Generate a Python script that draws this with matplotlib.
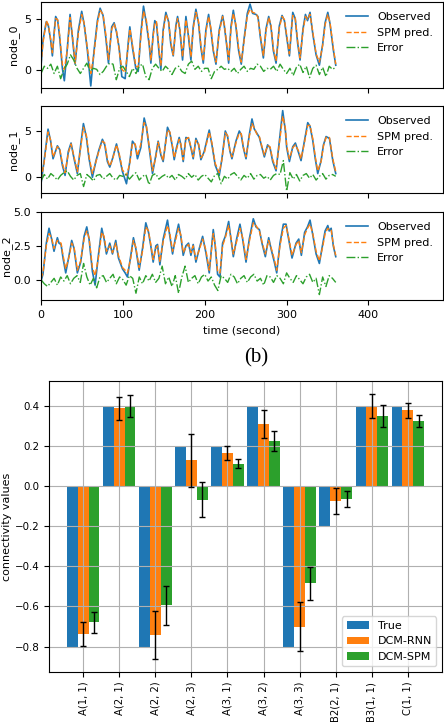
import numpy as np
import matplotlib
matplotlib.use("Agg")
import matplotlib.pyplot as plt

# ---- time series: (time, observed, SPM prediction) ----
node0 = [
    (0, 0.4, 0.6), (2.4, 2.9, 2.6), (6.5, 4.7, 4.8), (9.0, 4.3, 4.4), (11.8, 2.9, 3.0),
    (13.9, 1.4, 1.7), (15.9, 3.5, 3.4), (17.9, 5.2, 5.0), (20.4, 4.8, 4.9), (22.8, 3.2, 3.4),
    (26.1, 0.2, 0.6), (28.5, -1.0, 0.1), (32.2, 2.2, 2.0), (35.5, 5.4, 5.1), (38.3, 3.2, 3.5),
    (41.6, 0.6, 0.7), (45.7, 3.9, 3.6), (49.7, 5.7, 5.4), (52.6, 4.5, 4.6), (56.7, 1.9, 2.1),
    (60.8, -1.5, -0.3), (64.8, 1.9, 1.6), (68.9, 4.8, 4.6), (72.2, 6.0, 5.8), (75.8, 5.3, 5.4),
    (79.1, 3.2, 3.5), (82.4, 0.7, 1.0), (86.4, 4.2, 4.0), (89.3, 4.6, 4.5), (92.2, 3.7, 3.8),
    (95.4, 2.2, 2.0), (98.7, -0.6, 0.1), (102.8, -0.8, -0.2), (106.8, 2.9, 2.6), (108.5, 4.2, 4.0),
    (111.7, 2.2, 2.5), (115.8, 0.2, 0.4), (118.7, -0.1, 0.3), (121.9, 3.5, 3.2), (125.2, 6.2, 5.7),
    (128.8, 4.5, 4.8), (132.1, 2.5, 2.7), (134.2, 0.7, 1.0), (137.0, 3.5, 3.3), (139.0, 4.8, 4.6),
    (141.1, 4.5, 4.7), (144.3, 1.6, 1.9), (146.4, 0.1, 0.5), (149.2, 3.9, 3.6), (152.5, 5.6, 5.4),
    (155.8, 4.7, 4.8), (158.6, 2.5, 2.7), (161.5, 1.4, 1.5), (164.7, 4.3, 4.1), (166.8, 5.2, 5.0),
    (169.6, 3.9, 4.0), (172.9, 1.0, 1.3), (177.0, 5.2, 4.9), (180.2, 3.2, 3.4), (183.1, 1.0, 1.3),
    (185.9, 4.2, 4.0), (189.2, 5.9, 5.6), (192.5, 4.5, 4.7), (195.3, 2.2, 2.4), (198.2, 0.7, 0.9),
    (201.4, 3.9, 3.7), (204.7, 5.4, 5.2), (207.5, 3.9, 4.1), (210.4, 1.9, 2.0), (213.7, 0.6, 0.8),
    (217.7, 3.9, 3.7), (221.8, 5.3, 5.2), (223.9, 4.3, 4.5), (226.7, 2.5, 2.6), (229.2, 0.7, 1.0),
    (232.0, 4.2, 4.0), (234.9, 5.8, 5.5), (238.1, 4.2, 4.4), (241.4, 1.9, 2.1), (244.6, 0.6, 0.8),
    (248.3, 3.2, 3.0), (252.0, 5.5, 5.3), (255.3, 6.4, 5.9), (258.5, 5.5, 5.6), (262.6, 5.4, 5.5),
    (265.0, 5.2, 5.1), (267.9, 3.2, 3.4), (271.6, 1.2, 1.4), (274.8, 4.0, 3.8), (278.1, 5.2, 5.1),
    (280.9, 4.2, 4.4), (283.8, 1.9, 2.1), (287.1, 0.7, 0.9), (291.1, 4.3, 4.1), (294.4, 5.3, 5.2),
    (297.3, 4.8, 4.9), (300.1, 3.2, 3.4), (303.4, 1.4, 1.6), (307.5, 5.6, 5.3), (310.5, 5.0, 5.1),
    (313.5, 2.6, 2.8), (316.4, 1.0, 1.2), (320.0, 4.0, 3.8), (323.0, 5.4, 5.2), (325.5, 4.8, 4.9),
    (328.6, 5.6, 5.4), (332.0, 3.5, 3.7), (336.0, 1.5, 1.6), (340.0, 0.5, 0.8), (344.0, 2.5, 2.4),
    (347.0, 4.6, 4.4), (350.3, 5.6, 5.4), (353.0, 4.5, 4.6), (357.0, 2.0, 2.2), (360.0, 0.5, 0.6),
]

node1 = [
    (0, -0.7, -0.2), (3.7, 1.7, 1.5), (8.6, 5.2, 4.9), (11.8, 3.9, 4.0), (14.7, 2.0, 2.2),
    (20.0, 3.4, 3.3), (22.8, 3.0, 3.1), (26.1, 1.3, 1.5), (29.4, 0.2, 0.5), (33.4, 2.8, 2.6),
    (36.7, 3.7, 3.6), (40.4, 2.0, 2.2), (44.4, 0.4, 0.6), (48.5, 3.5, 3.2), (51.8, 5.8, 5.4),
    (55.5, 4.3, 4.5), (58.7, 2.0, 2.2), (62.8, 0.0, 0.4), (66.9, 1.7, 1.6), (70.9, 3.0, 2.9),
    (75.0, 4.1, 3.9), (77.9, 3.5, 3.7), (81.1, 1.7, 1.9), (84.0, 1.1, 1.2), (87.3, 2.0, 1.9),
    (92.2, 3.6, 3.5), (95.4, 2.4, 2.6), (99.5, 0.6, 0.8), (104.4, -0.7, 0.2), (108.5, 1.7, 1.5),
    (111.7, 3.9, 3.7), (115.0, 3.5, 3.6), (117.8, 2.0, 2.3), (121.9, 3.2, 3.6), (126.0, 6.4, 5.9),
    (128.8, 5.4, 5.5), (132.1, 3.2, 3.4), (136.2, 0.4, 0.7), (140.3, 2.4, 2.2), (143.1, 3.9, 3.8),
    (146.4, 2.4, 2.6), (149.2, 1.7, 1.8), (154.5, 5.4, 5.1), (157.4, 4.8, 4.9), (160.7, 3.2, 3.3),
    (162.7, 1.9, 2.1), (165.5, 3.2, 3.0), (168.8, 4.3, 4.1), (170.8, 3.5, 3.6), (173.7, 1.7, 1.9),
    (177.0, 4.3, 4.1), (180.2, 4.2, 4.3), (183.1, 3.2, 3.3), (185.9, 2.0, 2.2), (189.2, 4.2, 4.0),
    (192.5, 3.5, 3.6), (195.3, 1.9, 2.1), (199.4, 2.8, 2.6), (205.5, 5.1, 4.9), (208.8, 3.5, 3.7),
    (212.8, 1.3, 1.5), (217.7, 0.2, 0.5), (221.0, 2.0, 1.9), (225.1, 5.0, 4.8), (227.9, 4.4, 4.5),
    (230.8, 2.8, 2.9), (233.2, 2.0, 2.2), (238.1, 3.9, 3.7), (242.2, 5.0, 4.8), (244.6, 4.6, 4.7),
    (247.1, 3.2, 3.3), (250.4, 2.0, 2.2), (254.4, 4.6, 4.4), (257.7, 6.3, 5.8), (260.6, 5.2, 5.3),
    (263.4, 4.8, 4.7), (266.7, 4.3, 4.4), (269.9, 3.2, 3.3), (272.8, 2.2, 2.4), (276.8, 3.5, 3.4),
    (279.7, 3.2, 3.3), (283.0, 1.7, 1.9), (287.1, 0.7, 0.9), (291.1, 3.9, 3.6), (295.2, 7.2, 6.6),
    (298.5, 5.0, 5.3), (300.1, 3.2, 3.4), (303.4, 1.7, 2.0), (307.5, 3.3, 3.2), (310.7, 3.7, 3.5),
    (314.8, 2.6, 2.8), (317.6, 1.8, 2.0), (321.5, 3.8, 3.6), (325.8, 5.9, 5.6), (328.6, 5.5, 5.6),
    (331.9, 4.0, 4.2), (335.0, 2.0, 2.2), (338.0, 0.4, 0.7), (342.1, 1.8, 1.7), (345.0, 3.5, 3.4),
    (348.2, 4.4, 4.3), (352.3, 4.2, 4.3), (356.4, 1.8, 2.0), (360.0, 0.4, 0.6),
]

node2 = [
    (0, -0.1, 0.1), (2.4, 0.4, 0.5), (6.5, 2.7, 2.5), (9.8, 3.8, 3.4), (13.0, 3.0, 3.1),
    (15.9, 2.1, 2.3), (20.0, 3.1, 2.9), (22.0, 2.7, 2.8), (24.5, 2.6, 2.7), (26.9, 1.6, 1.8),
    (30.2, 0.5, 0.8), (34.3, 1.8, 1.7), (37.5, 2.9, 2.7), (40.4, 2.3, 2.4), (44.4, 0.5, 0.7),
    (48.5, 1.3, 1.4), (52.6, 3.2, 3.0), (55.9, 3.9, 3.6), (58.7, 3.0, 3.1), (62.8, 0.6, 0.9),
    (66.1, -0.4, 0.3), (70.1, 1.8, 1.6), (74.2, 3.8, 3.5), (77.1, 3.0, 3.2), (79.9, 1.9, 2.1),
    (84.0, 2.7, 2.5), (87.3, 1.9, 2.0), (91.3, 2.9, 2.7), (94.6, 1.6, 1.8), (99.5, 0.8, 0.9),
    (102.8, 0.5, 0.7), (105.6, 0.2, 0.5), (109.7, 1.8, 1.6), (112.9, 3.1, 2.9), (115.8, 2.3, 2.4),
    (119.9, 0.7, 0.9), (124.0, 2.3, 2.1), (128.0, 4.2, 3.9), (131.3, 3.5, 3.6), (134.1, 2.5, 2.6),
    (137.0, 1.3, 1.5), (140.3, 2.5, 2.3), (142.3, 2.6, 2.5), (145.2, 1.1, 1.3), (149.2, 3.0, 2.8),
    (154.5, 4.4, 4.0), (157.4, 3.2, 3.4), (160.7, 1.9, 2.1), (163.9, 3.0, 2.8), (168.0, 4.1, 3.8),
    (170.8, 3.2, 3.3), (173.7, 1.8, 2.0), (177.0, 2.5, 2.4), (180.2, 2.7, 2.6), (183.1, 1.8, 2.0),
    (185.9, 2.6, 2.5), (189.2, 1.3, 1.5), (193.3, 2.3, 2.2), (197.4, 3.2, 3.0), (201.4, 2.0, 2.2),
    (205.5, 0.5, 0.7), (208.8, 2.7, 2.5), (210.4, 3.7, 3.4), (212.8, 2.5, 2.6), (215.7, 0.4, 0.6),
    (218.6, 0.2, 0.5), (221.8, 2.7, 2.5), (225.1, 3.2, 3.1), (229.2, 4.3, 4.0), (232.0, 3.0, 3.1),
    (234.9, 1.7, 1.9), (238.9, 3.0, 2.8), (243.0, 4.1, 3.8), (246.3, 3.0, 3.1), (250.4, 1.3, 1.5),
    (254.4, 3.0, 2.8), (259.3, 4.5, 4.2), (262.6, 3.9, 4.0), (266.7, 3.7, 3.6), (269.9, 2.7, 2.8),
    (274.0, 1.7, 1.9), (278.1, 3.1, 2.9), (280.9, 2.3, 2.4), (285.0, 1.3, 1.5), (287.9, 0.5, 0.7),
    (291.9, 2.7, 2.5), (296.0, 4.1, 3.8), (299.3, 4.1, 4.0), (302.5, 3.0, 3.1), (306.6, 1.6, 1.8),
    (311.5, 2.7, 2.6), (314.8, 3.0, 2.9), (318.0, 1.8, 2.0), (322.0, 3.5, 3.3), (325.5, 3.9, 3.8),
    (328.6, 4.4, 4.1), (332.0, 3.3, 3.4), (336.0, 1.9, 2.1), (340.0, 1.2, 1.4), (344.0, 2.6, 2.4),
    (347.0, 3.6, 3.4), (350.3, 4.0, 3.8), (352.0, 3.6, 3.7), (354.4, 3.8, 3.7), (357.0, 2.5, 2.6),
    (360.0, 1.7, 1.8),
]

# error traces, one sample every 4 s from 0 to 360 s
err_step = 4
err0 = [-0.3, 0.4, 0.2, 0.6, -0.3, 0.4, -0.8, 0.1, 0.6, 1.5,
        1.0, 0.2, -0.3, 0.2, 0.7, -0.1, 0.2, 0.1, -0.4, -0.1,
        0.4, 0.7, 0.6, -0.9, 0.2, 0.4, -0.1, -0.6, 0.2, -0.3,
        0.4, 0.6, -0.6, -0.9, 0.2, 0.6, 0.2, -0.1, 0.4, 0.1,
        -0.4, 0.2, 0.4, -0.1, -0.3, 0.6, 0.9, 0.1, 0.4, -0.1,
        0.2, 0.2, -0.8, -0.1, 0.1, 0.4, 0.1, 0.2, -0.1, 0.2,
        -0.3, 0.1, 0.4, -0.1, 0.2, 0.1, 0.6, 0.4, -0.1, 0.2,
        0.1, 0.4, -0.1, 0.6, 0.1, -0.3, 0.2, -0.5, 0.3, 0.6,
        -0.2, 0.4, -0.7, 0.2, 0.5, -0.4, 0.3, -0.6, 0.4, 0.1, 0.3]
err1 = [-0.4, 0.3, -0.2, 0.4, 0.1, -0.3, 0.2, 0.5, 0.7, 0.1,
        -0.3, 0.2, 0.4, -1.0, 0.3, 0.0, -0.4, 0.2, 0.3, -0.2,
        0.1, 0.4, -0.1, -0.3, 0.2, 0.1, 0.3, -0.2, 0.2, 0.5,
        -0.3, 0.1, 0.3, -0.8, 0.2, 0.4, -0.2, 0.1, 0.3, -0.1,
        0.2, -0.3, 0.3, 0.1, -0.2, 0.4, 0.0, 0.3, -0.3, 0.1,
        0.3, -0.1, -0.5, 0.2, 0.4, -0.7, 0.1, -0.2, 0.3, 0.5,
        0.1, -0.3, 0.2, -0.1, 0.4, -0.2, 0.2, 0.3, -0.1, 0.1,
        -0.3, 0.2, 0.4, 0.3, 1.8, -1.5, 0.5, -0.2, 0.3, -0.4,
        0.2, 0.4, -0.1, 0.3, -0.3, 0.1, 0.4, -0.2, 0.2, 0.3, 0.1]
err2 = [0.0, -0.3, -0.5, -0.2, 0.1, -0.4, 0.2, -0.1, 0.3, -0.3,
        0.1, 0.3, -0.2, 1.2, 0.2, -0.4, 0.1, -0.6, 0.2, 0.3,
        -0.2, 0.1, 0.4, -0.3, 0.2, 0.0, -0.4, 0.3, 0.1, -1.0,
        0.2, -0.3, 0.3, -0.1, 0.4, -0.2, 0.1, 1.0, -0.3, 0.2,
        -0.5, 0.3, -1.0, 0.2, 1.0, -0.2, 0.1, 0.3, -0.3, 0.2,
        0.4, -0.1, 0.2, -0.4, -0.8, 0.3, 0.1, -0.2, 0.4, 0.2,
        -0.3, 0.1, 0.3, -0.2, 0.2, 0.4, -0.1, 0.1, -0.4, 0.3,
        0.2, -0.2, 0.3, 0.1, -0.3, 0.5, 0.1, -0.2, 0.3, 0.0,
        -0.3, 0.2, 0.4, -0.2, 0.1, -1.1, 0.2, -0.5, 0.3, 0.1, -0.2]

node_names = ["node_0", "node_1", "node_2"]

# ---- connectivity estimates ----
conn_labels = ["A(1, 1)", "A(2, 1)", "A(2, 2)", "A(2, 3)", "A(3, 1)",
               "A(3, 2)", "A(3, 3)", "B2(2, 1)", "B3(1, 1)", "C(1, 1)"]
true_vals = [-0.8, 0.4, -0.8, 0.2, 0.2, 0.4, -0.8, -0.2, 0.4, 0.4]
rnn_vals = [-0.737, 0.388, -0.741, 0.13, 0.166, 0.309, -0.70, -0.075, 0.40, 0.378]
rnn_err = [0.058, 0.059, 0.12, 0.133, 0.036, 0.07, 0.123, 0.064, 0.059, 0.037]
spm_vals = [-0.68, 0.40, -0.595, -0.068, 0.113, 0.227, -0.485, -0.066, 0.349, 0.325]
spm_err = [0.054, 0.057, 0.099, 0.088, 0.023, 0.05, 0.084, 0.04, 0.056, 0.032]


fig = plt.figure(figsize=(4.44, 7.23), dpi=100)

W, H = 444.0, 723.0
def px_axes(left, top, right, bottom):
    return fig.add_axes([left / W, 1 - bottom / H, (right - left) / W, (bottom - top) / H])

panel_boxes = [(41, 2, 443, 88), (41, 106, 443, 193), (41, 212, 443, 300)]
ylims = [(-1.7, 6.6), (-1.7, 7.7), (-1.5, 5.0)]
yticks = [[0, 5], [0, 5], [0.0, 2.5, 5.0]]
label_pads = [4, 4, 1]
nodes = [node0, node1, node2]
errs = [err0, err1, err2]

for i, (node, err) in enumerate(zip(nodes, errs)):
    ax = px_axes(*panel_boxes[i])
    arr = np.array(node)
    t_err = np.arange(len(err)) * err_step
    ax.plot(arr[:, 0], arr[:, 1], color="tab:blue", lw=1.2, label="Observed")
    ax.plot(arr[:, 0], arr[:, 2], color="tab:orange", lw=1.0, ls="--", label="SPM pred.")
    ax.plot(t_err, err, color="tab:green", lw=1.0, ls="-.", label="Error")
    ax.set_xlim(0, 491)
    ax.set_ylim(*ylims[i])
    ax.set_yticks(yticks[i])
    ax.set_xticks([0, 100, 200, 300, 400])
    ax.set_ylabel(node_names[i], fontsize=8, labelpad=label_pads[i])
    ax.tick_params(labelsize=8)
    ax.legend(loc="upper right", fontsize=8, frameon=False)
    if i < 2:
        ax.tick_params(labelbottom=False)
    else:
        ax.set_xlabel("time (second)", fontsize=8)

fig.text(256 / W, 1 - 358 / H, "(b)", family="Liberation Serif", fontsize=15,
         ha="center", va="center")

# ---- bar chart ----
ax = px_axes(49, 381, 442, 672)
x = np.arange(len(conn_labels))
w = 0.3
ax.bar(x - w, true_vals, w, color="tab:blue", label="True")
ax.bar(x, rnn_vals, w, color="tab:orange", label="DCM-RNN")
ax.bar(x + w, spm_vals, w, color="tab:green", label="DCM-SPM")
ax.errorbar(x, rnn_vals, yerr=rnn_err, fmt="none", ecolor="black", elinewidth=1, capsize=2.5)
ax.errorbar(x + w, spm_vals, yerr=spm_err, fmt="none", ecolor="black", elinewidth=1, capsize=2.5)
ax.set_xticks(x)
ax.set_xticklabels(conn_labels, rotation=90, fontsize=7.2)
ax.set_yticks([-0.8, -0.6, -0.4, -0.2, 0.0, 0.2, 0.4])
ax.tick_params(axis="y", labelsize=7.4)
ax.set_ylabel("connectivity values", fontsize=8, labelpad=2)
ax.grid(True)
ax.legend(loc="lower right", fontsize=8)

fig.savefig("out.png", dpi=100)
